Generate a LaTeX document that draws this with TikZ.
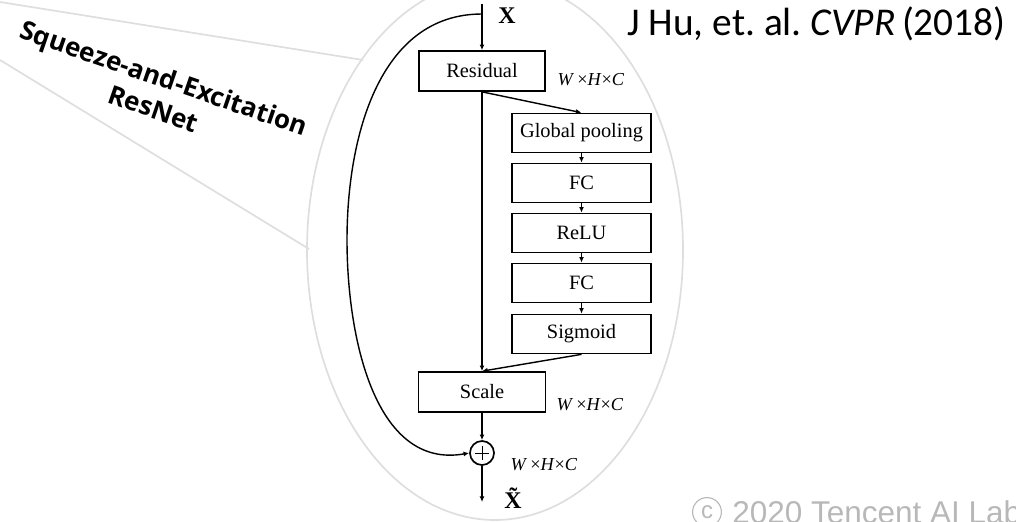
\documentclass[tikz,border=0pt]{standalone}
\usepackage{fontspec}
\setmainfont{Liberation Serif}
\newfontfamily\citefont{Carlito}
\newfontfamily\bannerfont{Open Sans}
\newfontfamily\markfont{Liberation Sans}
\usetikzlibrary{arrows.meta}
\tikzset{
  block/.style={draw, line width=1.2pt, minimum width=3.475cm, minimum height=0.975cm, inner sep=0pt, font=\fontsize{14.5}{16}\selectfont},
  dimlabel/.style={font=\fontsize{13}{15}\selectfont},
  flow/.style={line width=1pt, -{Latex[length=4pt,width=3.5pt]}},
}
\frenchspacing

\begin{document}
\begin{tikzpicture}[x=0.025cm, y=-0.025cm]
		%%%%% START %%%%%
		\useasboundingbox (0,0) rectangle (1016,521);
		\clip (0,0) rectangle (1016,521);
		
		\draw[line width=1.2pt, color=black!13] (495,250) ellipse (188 and 270);
		\draw[line width=1.2pt, color=black!13] (0,2) -- (363,60);
		\draw[line width=1.2pt, color=black!13] (0,60) -- (309,249);
		
		\node[rotate=-19, align=center, font=\bannerfont\bfseries\fontsize{18.5}{23}\selectfont] (banner) at (159,93) {Squeeze-and-Excitation\\ResNet};
		
		\node[block, minimum width=3.15cm, minimum height=1cm] (res) at (482,71) {Residual};
		\node[block] (gpool) at (581.5,133) {Global pooling};
		\node[block] (fc1) at (581.5,183) {FC};
		\node[block] (relu) at (581.5,233) {ReLU};
		\node[block] (fc2) at (581.5,283) {FC};
		\node[block] (sig) at (581.5,334) {Sigmoid};
		\node[block, minimum width=3.175cm, minimum height=1cm] (scale) at (482,392) {Scale};
		\node[draw, circle, line width=1.2pt, minimum size=0.6cm, inner sep=0pt] (sum) at (482,453) {};
		\draw[line width=0.6pt] ([xshift=-5pt]sum.center) -- ([xshift=5pt]sum.center);
		\draw[line width=0.6pt] ([yshift=-5pt]sum.center) -- ([yshift=5pt]sum.center);
		
		\coordinate (top) at (482,4);
		\coordinate (split) at (482,14);
		\coordinate (bend) at (347,240);
		\coordinate (out) at (482,502);
		
		\draw[flow] (top) -- (res.north);
		\draw[flow] (res.south) -- (scale.north);
		\draw[flow] (res.south) -- (gpool.north);
		\foreach \a/\b in {gpool/fc1, fc1/relu, relu/fc2, fc2/sig}
			\draw[flow] (\a.south) -- (\b.north);
		\draw[flow] (sig.south) -- (scale.north);
		\draw[flow] (scale.south) -- (sum.north);
		\draw[flow] (sum.south) -- (out);
		\draw[flow] (split) to[out=180, in=90] (bend) to[out=-90, in=190] (sum.west);
		
		\node[font=\bfseries\fontsize{17}{18}\selectfont] (xin) at (507,16) {X};
		\node[font=\bfseries\fontsize{17}{18}\selectfont] (xout) at (513,498) {\~{X}};
		
		\node[dimlabel] (resdim) at (591,80) {\textit{W}\,×\textit{H}×\textit{C}};
		\node[dimlabel] (scaledim) at (590,405) {\textit{W}\,×\textit{H}×\textit{C}};
		\node[dimlabel] (sumdim) at (544,465) {\textit{W}\,×\textit{H}×\textit{C}};
		
		\node[anchor=base west, inner sep=0pt, font=\citefont\fontsize{28}{30}\selectfont] (cite) at (627,35) {J Hu, et. al. \textit{CVPR}\,(2018)};
		
		% copyright mark, drawn as a ring with a c
		\node[draw=black!28, circle, line width=0.8pt, minimum size=0.72cm, inner sep=0pt, text=black!28, font=\markfont\fontsize{17}{18}\selectfont] (ring) at (707,512) {c};
		\node[anchor=base west, inner sep=0pt, text=black!28, font=\markfont\fontsize{22.4}{26}\selectfont] (mark) at (732,523) {2020 Tencent AI Lab};
		%%%%% END %%%%%
\end{tikzpicture}
\end{document}
